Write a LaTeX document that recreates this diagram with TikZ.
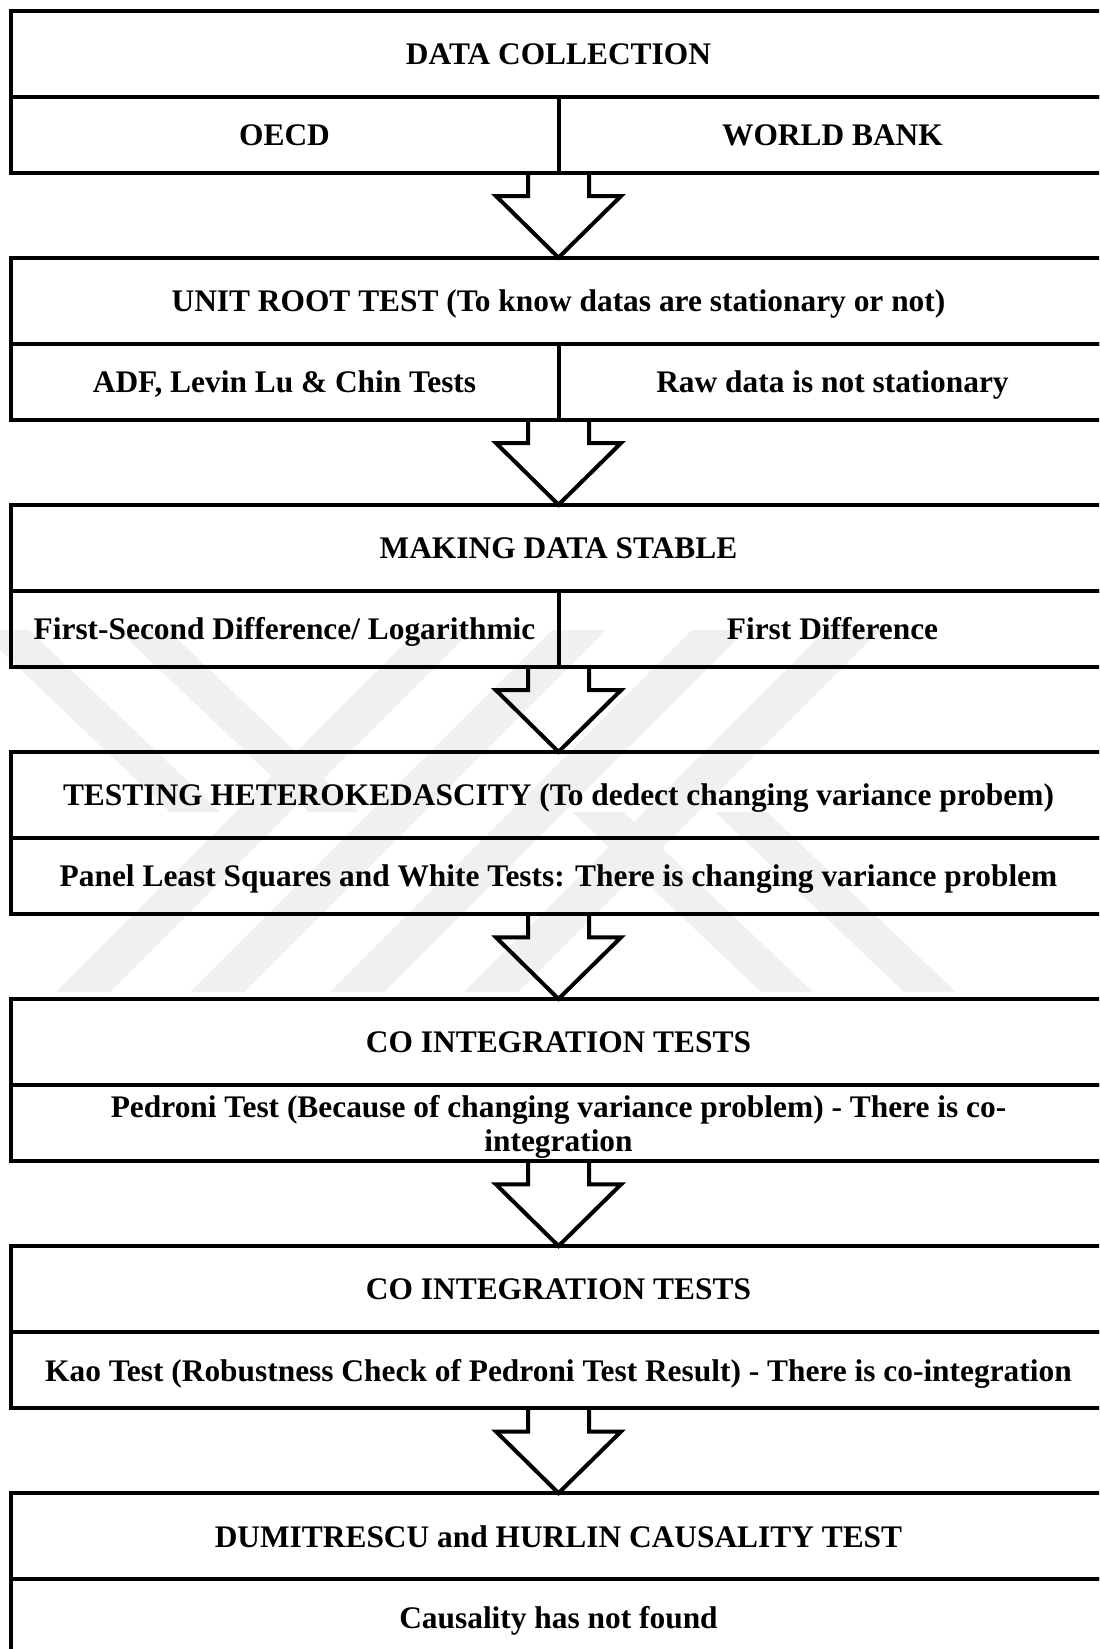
\documentclass[tikz,border=0pt]{standalone}
\usepackage{fontspec}
\setmainfont{Liberation Serif}
\usetikzlibrary{positioning,calc}

\newcommand{\flowarrow}[2]{%
  \draw[bigarrow] ($(#1)+(-15.25pt,0)$) |- ($(#2)+(-31.25pt,30.8pt)$) -- (#2)
    -- ($(#2)+(31.25pt,30.8pt)$) -| ($(#1)+(15.25pt,0)$);}

\begin{document}
\begin{tikzpicture}[%
        x=0.5pt, y=-0.5pt,
        every node/.style={rectangle, draw=black, line width=2pt, outer sep=0pt, inner sep=0pt,
                           text height=13.2pt, text depth=2.4pt,
                           font=\fontsize{15.7}{16.8}\selectfont\bfseries},
        head/.style={minimum width=548pt, minimum height=43.15pt},
        full/.style={minimum width=548pt, minimum height=37.9pt, align=center},
        half/.style={minimum width=274pt, minimum height=37.9pt},
        bigarrow/.style={line width=2pt},
        band/.style={fill=black!6}
        ]
        \path[use as bounding box, clip] (0,0) rectangle (1099,1649);

        \fill[band] (418,630) -- (472,630) -- (110,992) -- (56,992) -- cycle;
        \fill[band] (552,630) -- (606,630) -- (244,992) -- (190,992) -- cycle;
        \fill[band] (692,630) -- (746,630) -- (384,992) -- (330,992) -- cycle;
        \fill[band] (826,630) -- (880,630) -- (518,992) -- (464,992) -- cycle;
        \fill[band] (-21,630) -- (29,630) -- (220,812) -- (170,812) -- cycle;
        \fill[band] (118,630) -- (168,630) -- (359,812) -- (309,812) -- cycle;
        \fill[band] (572,812) -- (624,812) -- (813,992) -- (761,992) -- cycle;
        \fill[band] (715,812) -- (767,812) -- (956,992) -- (904,992) -- cycle;

        \node[head] (dc) at (558.5,53.65) {DATA COLLECTION};
        \node[half, below right=0pt of dc.south west] (oecd) {OECD};
        \node[half, right=0pt of oecd] (wb) {WORLD BANK};

        \node[head, below=42.5pt of oecd.south east] (urt) {UNIT ROOT TEST (To know datas are stationary or not)};
        \node[half, below right=0pt of urt.south west] (adf) {ADF, Levin Lu \& Chin Tests};
        \node[half, right=0pt of adf] (raw) {Raw data is not stationary};

        \node[head, below=42.5pt of adf.south east] (stable) {MAKING DATA STABLE};
        \node[half, below right=0pt of stable.south west] (logdiff) {First-Second Difference/ Logarithmic};
        \node[half, right=0pt of logdiff] (firstdiff) {First Difference};

        \node[head, below=42.5pt of logdiff.south east] (hetero) {TESTING HETEROKEDASCITY (To dedect changing variance probem)};
        \node[full, below=0pt of hetero] (white) {Panel Least Squares and White Tests: There is changing variance problem};

        \node[head, below=42.5pt of white] (coint) {CO INTEGRATION TESTS};
        \node[full, below=0pt of coint, text height={}, text depth={}] (pedroni) {\rule{0pt}{15pt}Pedroni Test (Because of changing variance problem) - There is co-\\integration};

        \node[head, below=42.5pt of pedroni] (cointb) {CO INTEGRATION TESTS};
        \node[full, below=0pt of cointb] (kao) {Kao Test (Robustness Check of Pedroni Test Result) - There is co-integration};

        \node[head, below=42.5pt of kao] (dh) {DUMITRESCU and HURLIN CAUSALITY TEST};
        \node[full, below=0pt of dh] (causal) {Causality has not found};

        \flowarrow{oecd.south east}{urt.north}
        \flowarrow{adf.south east}{stable.north}
        \flowarrow{logdiff.south east}{hetero.north}
        \flowarrow{white.south}{coint.north}
        \flowarrow{pedroni.south}{cointb.north}
        \flowarrow{kao.south}{dh.north}
    \end{tikzpicture}
\end{document}
